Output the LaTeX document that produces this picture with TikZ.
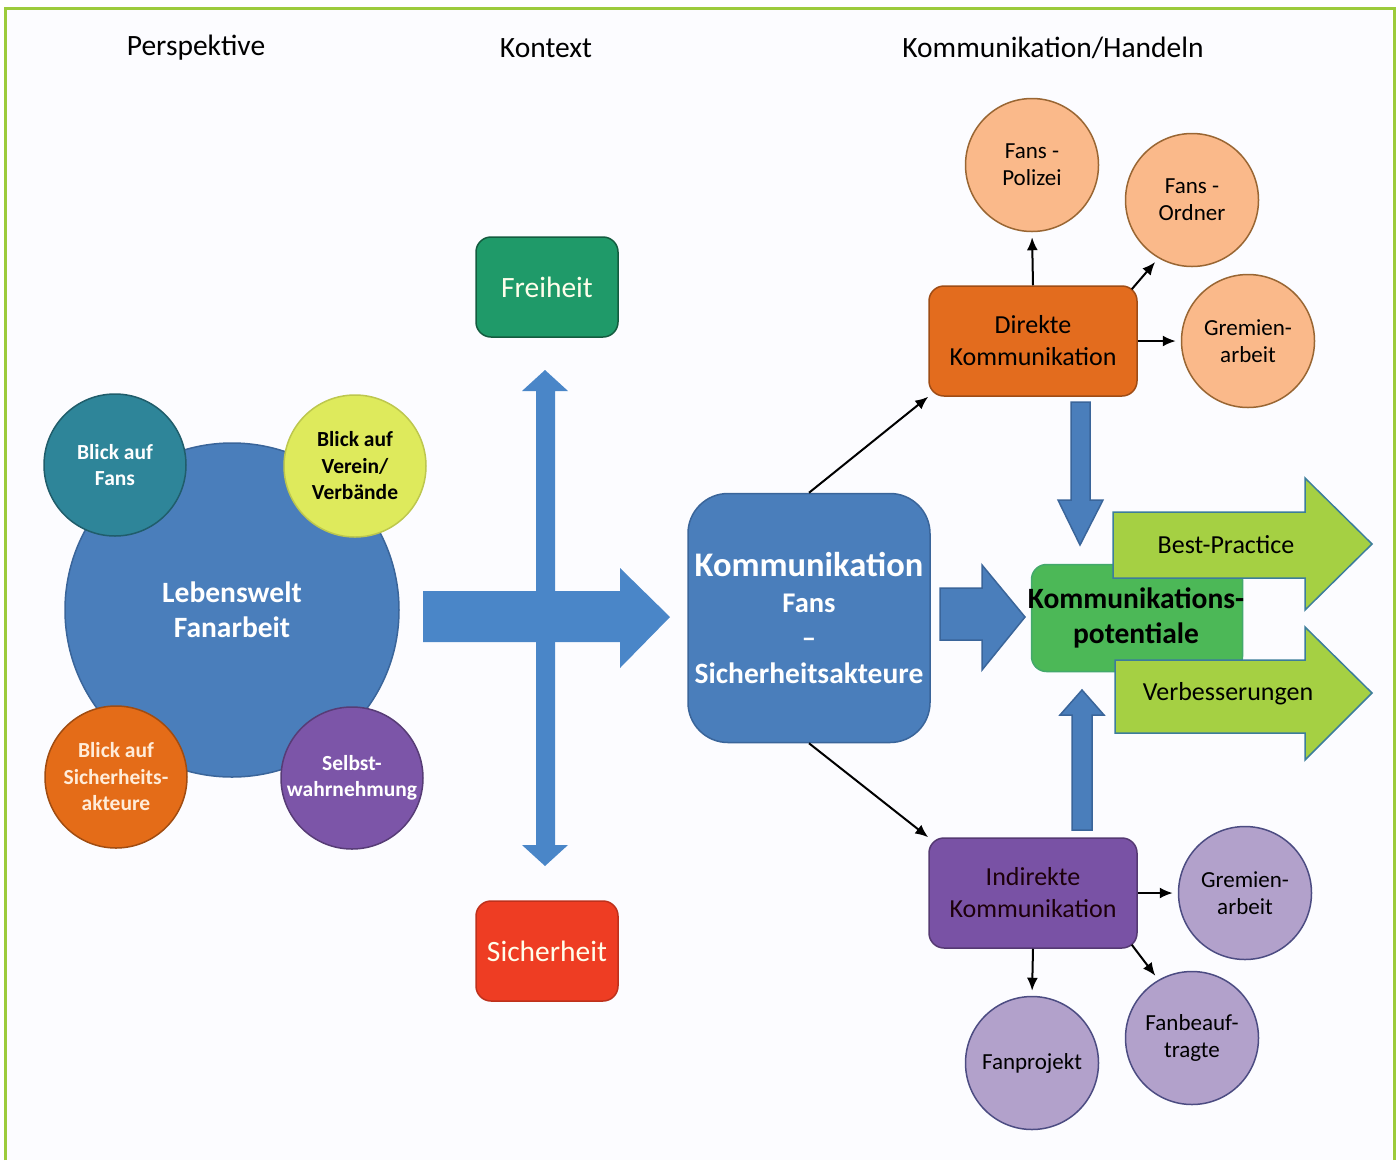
\documentclass[tikz,border=0pt]{standalone}
\usepackage{fontspec}
\setmainfont{Carlito}
\usetikzlibrary{arrows.meta}

\definecolor{frame}{HTML}{9CCB3B}
\definecolor{lwblue}{HTML}{4A7EBB}
\definecolor{lwline}{HTML}{3A659A}
\definecolor{bfteal}{HTML}{2E8599}
\definecolor{yell}{HTML}{DEEA5C}
\definecolor{orng}{HTML}{E46C18}
\definecolor{purp}{HTML}{7C55A8}
\definecolor{crossblue}{HTML}{4A86C8}
\definecolor{freigreen}{HTML}{1F9A69}
\definecolor{sichred}{HTML}{EE3D23}
\definecolor{potgreen}{HTML}{4CB857}
\definecolor{limegreen}{HTML}{A5D043}
\definecolor{limeline}{HTML}{3C7D9B}
\definecolor{dkorange}{HTML}{E36C1E}
\definecolor{lightorange}{HTML}{FAB98A}
\definecolor{ikpurple}{HTML}{7952A5}
\definecolor{lightpurple}{HTML}{B2A1CB}

\begin{document}
\begin{tikzpicture}[x=1pt, y=-1pt,
    title/.style={font=\fontsize{29.5}{32}\selectfont},
    circ/.style={circle, draw=#1!70!black, fill=#1, line width=1.5pt, inner sep=0pt,
        minimum size=142pt, align=center, font=\fontsize{21.5}{26.5}\selectfont\bfseries},
    ctxbox/.style={draw=#1!60!black, fill=#1, line width=1.5pt, rounded corners=15pt,
        minimum width=142pt, minimum height=100pt, text=white!92!yellow,
        font=\fontsize{29.5}{32}\selectfont},
    kbox/.style={draw=#1!70!black, fill=#1, line width=1.5pt, rounded corners=15pt,
        minimum width=208pt, minimum height=110pt, align=center,
        font=\fontsize{26}{32}\selectfont},
    kcirc/.style 2 args={circle, draw=#1, fill=#2, line width=1.5pt, inner sep=0pt,
        minimum size=133pt, align=center, font=\fontsize{23}{27}\selectfont},
    link/.style={-{Latex[length=13pt, width=11pt]}, line width=2pt},
    blockarrow/.style={fill=lwblue, draw=lwline, line width=1.5pt, line join=miter}
]
\useasboundingbox (0,0) rectangle (1400,1160);
\fill[white!99!blue] (7,10) rectangle (1392,1160);
\draw[frame, line width=3pt] (5,1160) -- (5,8) -- (1394,8) -- (1394,1160);

% column titles
\node[title] (tper) at (196,48) {Perspektive};
\node[title] (tkon) at (546,48) {Kontext};
\node[title] (tkom) at (1053,48) {Kommunikation/Handeln};

% Perspektive
\node[circle, draw=lwline, fill=lwblue, line width=1.5pt, minimum size=334pt, inner sep=0pt,
    align=center, text=white, font=\fontsize{29.5}{35}\selectfont\bfseries] (lw) at (232,610) {Lebenswelt\\Fanarbeit};
\node[circ=bfteal, text=white] (bf) at (115,465) {Blick auf\\Fans};
\node[circ=yell, draw=yell!85!black, text=black] (bv) at (355,466) {Blick auf\\Verein/\\Verbände};
\node[circ=orng, text=white!85!orange] (bs) at (116,777) {Blick auf\\Sicherheits-\\akteure};
\node[circ=purp, text=white] (sw) at (352,778) {Selbst-\\wahrnehmung};

% Kontext
\fill[crossblue] (423,591) -- (620,591) -- (620,568) -- (670,617) -- (620,668) -- (620,642) -- (423,642) -- cycle;
\fill[crossblue] (545,370) -- (568,391) -- (555,391) -- (555,845) -- (568,845) -- (545,866)
    -- (522,845) -- (536,845) -- (536,391) -- (522,391) -- cycle;
\node[ctxbox=freigreen] (fr) at (547,287) {Freiheit};
\node[ctxbox=sichred, draw=sichred!80!black] (si) at (547,951) {Sicherheit};

% Kommunikation/Handeln
\node[draw=lwline, fill=lwblue, line width=1.5pt, rounded corners=40pt, minimum width=242pt,
    minimum height=249pt, inner sep=0pt, align=center, text=white, font=\fontsize{28.5}{35.5}\selectfont\bfseries] (kf) at (809,618)
    {{\fontsize{34.5}{35.5}\selectfont Kommunikation}\\Fans\\--\\{\fontsize{29.5}{35.5}\selectfont Sicherheitsakteure}};

\node[kbox=dkorange] (dk) at (1033,341) {Direkte\\Kommunikation};
\node[kbox=ikpurple, text=black!85!purple] (ik) at (1033,893) {Indirekte\\Kommunikation};

\node[kcirc={brown!80!black}{lightorange}] (fp) at (1032,165) {Fans -\\Polizei};
\node[kcirc={brown!80!black}{lightorange}] (fo) at (1192,200) {Fans -\\Ordner};
\node[kcirc={brown!80!black}{lightorange}] (ga) at (1248,341) {Gremien-\\arbeit};
\node[kcirc={blue!30!black!70}{lightpurple}] (gb) at (1245,893) {Gremien-\\arbeit};
\node[kcirc={blue!30!black!70}{lightpurple}] (fb) at (1192,1038) {Fanbeauf-\\tragte};
\node[kcirc={blue!30!black!70}{lightpurple}] (fj) at (1032,1063) {Fanprojekt};

\draw[link] (kf.north) -- (dk.south west);
\draw[link] (kf.south) -- (ik.north west);
\draw[link, shorten >=5pt] (dk.north) -- (fp.south);
\draw[link, shorten >=5pt] ([xshift=-6pt, yshift=-4pt]dk.north east) -- (fo.240);
\draw[link, shorten >=5pt] (dk.east) -- (ga.west);
\draw[link, shorten >=5pt] (ik.east) -- (gb.west);
\draw[link, shorten >=5pt] ([xshift=-6pt, yshift=4pt]ik.south east) -- (fb.120);
\draw[link, shorten >=5pt] (ik.south) -- (fj.north);

% potentiale
\node[draw=potgreen!70!bfteal, fill=potgreen, line width=1.5pt, rounded corners=15pt,
    minimum width=211pt, minimum height=107pt] (pot) at (1137,618) {};
\draw[blockarrow] (940,588) -- (982,588) -- (982,565) -- (1025,617) -- (982,670) -- (982,640) -- (940,640) -- cycle;
\draw[blockarrow] (1071,402) -- (1090,402) -- (1090,500) -- (1103,500) -- (1080,545) -- (1058,500) -- (1071,500) -- cycle;
\draw[blockarrow] (1072,830) -- (1092,830) -- (1092,715) -- (1104,715) -- (1082,690) -- (1060,715) -- (1072,715) -- cycle;
\draw[fill=limegreen, draw=limeline, line width=1.5pt] (1113,512) -- (1305,512) -- (1305,478) -- (1372,544)
    -- (1305,610) -- (1305,578) -- (1113,578) -- cycle;
\draw[fill=limegreen, draw=limeline, line width=1.5pt] (1115,660) -- (1305,660) -- (1305,627) -- (1372,693)
    -- (1305,760) -- (1305,733) -- (1115,733) -- cycle;
\node[font=\fontsize{26}{30}\selectfont] (bp) at (1226,545) {Best-Practice};
\node[font=\fontsize{26}{30}\selectfont] (vb) at (1228,694) {Verbesserungen};
\node[align=center, font=\fontsize{29.5}{35}\selectfont\bfseries] (potl) at (1136,618) {Kommunikations-\\potentiale};

\end{tikzpicture}
\end{document}
